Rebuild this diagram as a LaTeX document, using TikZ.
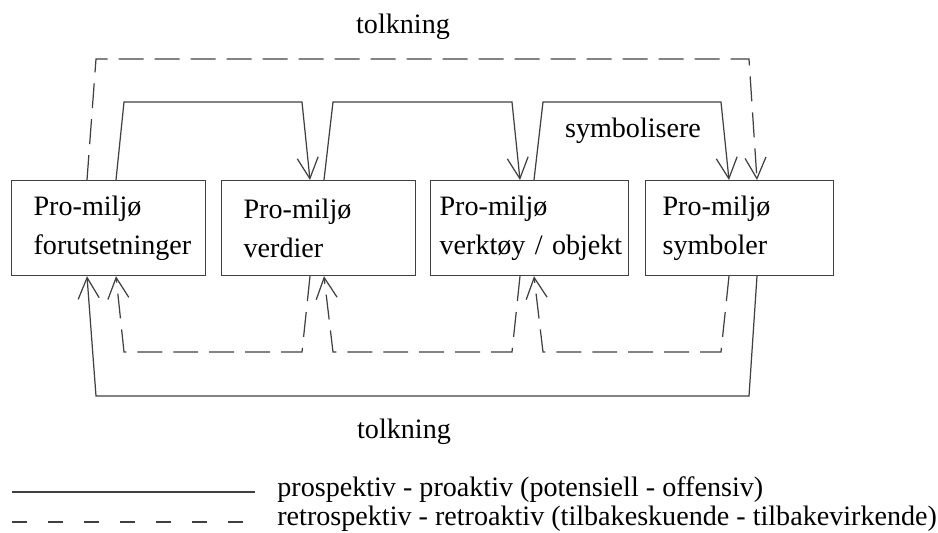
\documentclass[tikz,border=0pt]{standalone}
\usepackage{fontspec}
\setmainfont{Liberation Serif}
\usetikzlibrary{arrows.meta,calc}
\tikzset{
  pbox/.style={draw=black!75, line width=0.7pt, anchor=north west, minimum height=1.9cm,
    inner ysep=0pt, align=left},
  pro/.style={draw=black!75, line width=0.7pt},
  retro/.style={draw=black!75, line width=0.7pt, dash pattern=on 0.5cm off 0.22cm},
  lbl/.style={inner sep=0pt}
}
\begin{document}
\fontsize{16}{22}\selectfont
\begin{tikzpicture}[x=0.02cm, y=-0.02cm, >={Straight Barb[length=0.42cm, width=0.42cm]}]
		\useasboundingbox (0,0) rectangle (938,533);
		% Boksene
		\node[pbox, inner xsep=0.44cm, text width=3.0cm] (b1) at (11,180) {Pro-miljø\\forutsetninger};
		\node[pbox, inner xsep=0.44cm, text width=3.0cm] (b2) at (221,180) {Pro-miljø\\verdier};
		\node[pbox, inner xsep=0.18cm, text width=3.6cm] (b3) at (430,180) {Pro-miljø\\\mbox{verktøy / objekt}};
		\node[pbox, inner xsep=0.34cm, text width=3.08cm] (b4) at (645,180) {Pro-miljø\\symboler};
		
		% Tekster
		\node[lbl] (tolkOpp) at (403,27) {tolkning};
		\node[lbl] (symb) at (633,131) {symbolisere};
		\node[lbl] (tolkNed) at (404,432) {tolkning};
		
		% Prospektive piler over boksene
		\draw[pro, ->] ($(b1.north west)+(105,0)$) -- (124,102) -- (302,102) -- ($(b2.north west)+(89,0)$);
		\draw[pro, ->] ($(b2.north west)+(103,0)$) -- (333,102) -- (512,102) -- ($(b3.north west)+(90,0)$);
		\draw[pro, ->] ($(b3.north west)+(104,0)$) -- (543,102) -- (721,102) -- ($(b4.north west)+(84,0)$);
		\draw[retro, ->] ($(b1.north west)+(76,0)$) -- (96,59) -- (749,59) -- ($(b4.north west)+(112,0)$);
		
		% Retrospektive piler under boksene
		\draw[retro, ->] ($(b2.south west)+(89,0)$) -- (302,352) -- (124,352) -- ($(b1.south west)+(105,0)$);
		\draw[retro, ->] ($(b3.south west)+(90,0)$) -- (512,352) -- (333,352) -- ($(b2.south west)+(103,0)$);
		\draw[retro, ->] ($(b4.south west)+(84,0)$) -- (721,352) -- (543,352) -- ($(b3.south west)+(104,0)$);
		\draw[pro, ->] ($(b4.south west)+(112,0)$) -- (749,396) -- (96,396) -- ($(b1.south west)+(76,0)$);
		
		% Forklaring
		\coordinate (proA) at (12,492);
		\coordinate (proB) at (255,492);
		\coordinate (retroA) at (12,522);
		\coordinate (retroB) at (255,522);
		\draw[pro] (proA) -- (proB);
		\draw[retro, dash pattern=on 0.3cm off 0.42cm] (retroA) -- (retroB);
		\node[lbl, anchor=west] (proTxt) at (277,490) {prospektiv - proaktiv (potensiell - offensiv)};
		\node[lbl, anchor=west] (retroTxt) at (277,519) {retrospektiv - retroaktiv (tilbakeskuende - tilbakevirkende)};
	\end{tikzpicture}
\end{document}
